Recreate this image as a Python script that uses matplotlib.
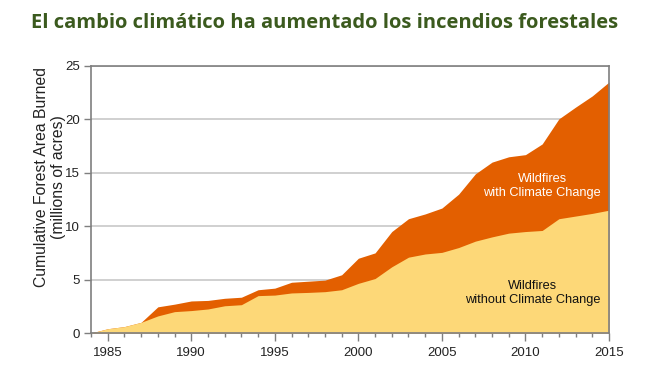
import matplotlib
matplotlib.use("Agg")
import matplotlib.pyplot as plt
import numpy as np

years = list(range(1984, 2016))
without_cc = [0.0, 0.4, 0.6, 1.0, 1.6, 2.0, 2.1, 2.25, 2.55, 2.65, 3.5, 3.55, 3.75, 3.8, 3.87, 4.05,
              4.65, 5.1, 6.2, 7.1, 7.4, 7.55, 8.0, 8.6, 9.0, 9.35, 9.5, 9.6, 10.7, 10.95, 11.2, 11.5]
with_cc = [0.0, 0.4, 0.6, 1.0, 2.45, 2.7, 3.0, 3.05, 3.25, 3.35, 4.05, 4.2, 4.75, 4.85, 4.95, 5.45,
           7.0, 7.5, 9.5, 10.7, 11.15, 11.7, 13.0, 14.9, 16.0, 16.5, 16.7, 17.7, 20.05, 21.15, 22.2, 23.5]
major_years = [1985, 1990, 1995, 2000, 2005, 2010, 2015]
y_ticks = [0, 5, 10, 15, 20, 25]

title = "El cambio climático ha aumentado los incendios forestales"
ylabel = "Cumulative Forest Area Burned\n(millions of acres)"
label_with = "Wildfires\nwith Climate Change"
label_without = "Wildfires\nwithout Climate Change"

plt.rcParams['font.family'] = ['Liberation Sans', 'DejaVu Sans']

fig = plt.figure(figsize=(6.5, 3.69), dpi=100)
ax = fig.add_axes([91/650, 36/369, 518/650, 267/369])

ax.fill_between(years, 0, with_cc, color='#E35F00', linewidth=0, zorder=2)
ax.fill_between(years, 0, without_cc, color='#FDD878', linewidth=0, zorder=3)

ax.set_xlim(1984, 2015)
ax.set_ylim(0, 25)
ax.set_yticks(y_ticks)
ax.set_xticks(major_years)
ax.set_xticks(years, minor=True)
ax.yaxis.grid(True, color='#c8c8c8', linewidth=1.2, zorder=1)
ax.set_axisbelow(True)
for s in ax.spines.values():
    s.set_color('#7f7f7f')
    s.set_linewidth(1.2)
    s.set_zorder(4)
ax.tick_params(axis='both', which='major', labelsize=9.5, color='#7f7f7f', width=1, labelcolor='#222222')
ax.tick_params(axis='x', which='major', length=6, pad=4)
ax.tick_params(axis='y', which='major', length=5, pad=3)
ax.tick_params(axis='x', which='minor', color='#7f7f7f', length=3, width=1)

fig.text(50/650, 1 - 177/369, ylabel, rotation=90, ha='center', va='center',
         fontsize=11.3, color='#222222', linespacing=1.15, multialignment='center')

ax.text(2011.0, 13.8, label_with, color='white', fontsize=9.2, ha='center', va='center', zorder=5, linespacing=1.2)
ax.text(2010.45, 3.75, label_without, color='#111111', fontsize=9.2, ha='center', va='center', zorder=5, linespacing=1.2)

fig.text(0.5, 0.937, title, ha='center', va='center', fontsize=14.5, fontweight='bold',
         color='#3B5A1E', family=['Open Sans', 'DejaVu Sans'])

fig.savefig('out.png', dpi=100)
